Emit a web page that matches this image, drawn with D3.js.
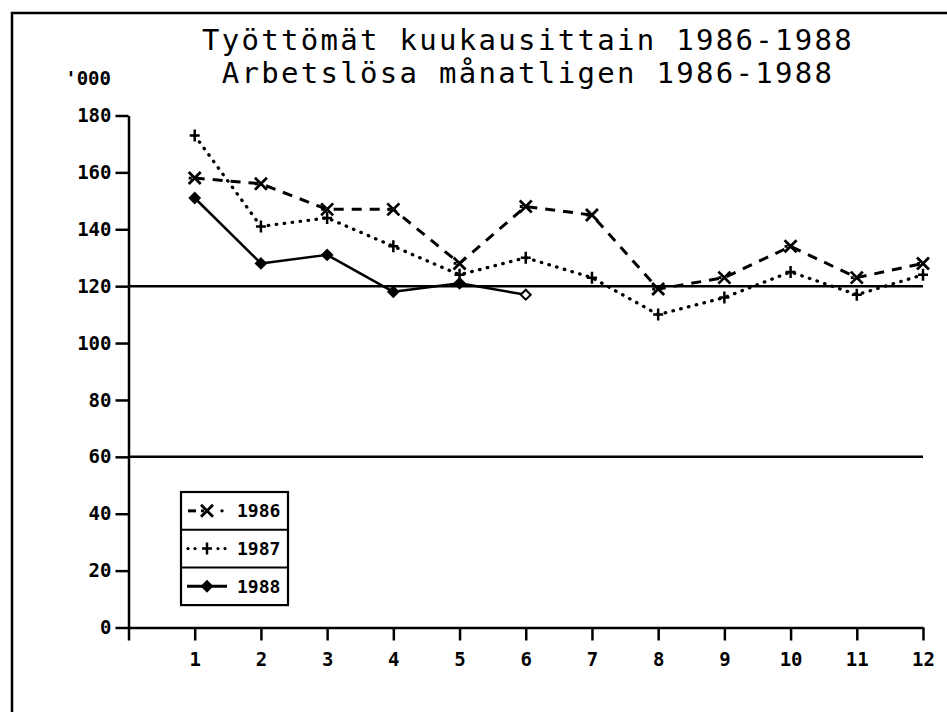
<!DOCTYPE html>
<html lang="fi">
    <head>
        <meta charset="UTF-8">
        <title>Työttömät kuukausittain 1986-1988</title>
        <style>
            html, body { margin: 0; padding: 0; background: #fff; overflow: hidden; }
            svg { display: block; }
        </style>
        <script src="https://cdn.jsdelivr.net/npm/d3@7"></script>
    </head>
    <body>
        <script>
            const titleLines = ["Työttömät kuukausittain 1986-1988", "Arbetslösa månatligen 1986-1988"];
            const unitLabel = "'000";
            const months = [1, 2, 3, 4, 5, 6, 7, 8, 9, 10, 11, 12];
            const yTicks = [0, 20, 40, 60, 80, 100, 120, 140, 160, 180];
            const refLines = [120, 60];
            const years = ["1986", "1987", "1988"];
            const values1986 = [158, 156, 147, 147, 128, 148, 145, 119, 123, 134, 123, 128];
            const values1987 = [173, 141, 144, 134, 124, 130, 123, 110, 116, 125, 117, 124];
            const values1988 = [151, 128, 131, 118, 121, 117];

            const width = 947, height = 712;
            const mono = "'DejaVu Sans Mono', 'Liberation Mono', monospace";

            const svg = d3.select("body")
                .append("svg")
                .attr("width", width)
                .attr("height", height);

            // frame (only top and left edges are visible in the scan)
            svg.append("path")
                .attr("d", "M12,712 V13 H947")
                .attr("fill", "none")
                .attr("stroke", "#000")
                .attr("stroke-width", 2.5);

            const xScale = d3.scaleLinear().domain([0, 12]).range([128.5, 923]);
            const yScale = d3.scaleLinear().domain([0, 180]).range([627.5, 115.5]);

            // title
            svg.append("g")
                .selectAll("text")
                .data(titleLines)
                .enter()
                .append("text")
                .attr("x", 528)
                .attr("y", (d, i) => 50 + i * 33)
                .attr("text-anchor", "middle")
                .attr("font-family", mono)
                .attr("font-size", 29)
                .attr("letter-spacing", 2.3)
                .attr("fill", "#000")
                .text(d => d);

            svg.append("text")
                .attr("x", 111)
                .attr("y", 85)
                .attr("text-anchor", "end")
                .attr("font-family", mono)
                .attr("font-weight", "bold")
                .attr("font-size", 19)
                .text(unitLabel);

            // axes
            const yAxis = d3.axisLeft(yScale)
                .tickValues(yTicks)
                .tickSize(13)
                .tickPadding(4)
                .tickSizeOuter(0);

            const xAxis = d3.axisBottom(xScale)
                .tickValues([0].concat(months))
                .tickSize(13)
                .tickPadding(12)
                .tickSizeOuter(0)
                .tickFormat(d => d === 0 ? "" : d);

            const styleAxis = g => {
                g.select(".domain").attr("stroke-width", 2.5);
                g.selectAll(".tick line").attr("stroke-width", 2.5);
                g.selectAll(".tick text")
                    .attr("font-family", mono)
                    .attr("font-weight", "bold")
                    .attr("font-size", 19)
                    .attr("fill", "#000");
            };

            svg.append("g")
                .attr("transform", `translate(${xScale(0)},0)`)
                .call(yAxis)
                .call(styleAxis);

            svg.append("g")
                .attr("transform", `translate(0,${yScale(0)})`)
                .call(xAxis)
                .call(styleAxis);

            // horizontal reference lines
            svg.append("g")
                .selectAll("line")
                .data(refLines)
                .enter()
                .append("line")
                .attr("x1", xScale(0))
                .attr("x2", xScale(12))
                .attr("y1", d => yScale(d))
                .attr("y2", d => yScale(d))
                .attr("stroke", "#000")
                .attr("stroke-width", 2.5);

            // series
            const series = [
                { name: years[0], values: values1986, dash: "10,8", width: 3, cap: "butt", marker: "x" },
                { name: years[1], values: values1987, dash: "0.5,7.5", width: 3.3, cap: "round", marker: "plus" },
                { name: years[2], values: values1988, dash: null, width: 2.5, cap: "butt", marker: "diamond" }
            ];

            const line = d3.line()
                .x((d, i) => xScale(months[i]))
                .y(d => yScale(d));

            const drawMarker = (g, type, x, y, open) => {
                if (type === "x") {
                    g.append("path")
                        .attr("d", `M${x - 6},${y - 6}L${x + 6},${y + 6}M${x - 6},${y + 6}L${x + 6},${y - 6}M${x - 6},${y}L${x - 3},${y}`)
                        .attr("stroke", "#000")
                        .attr("stroke-width", 2.8)
                        .attr("fill", "none");
                } else if (type === "plus") {
                    g.append("path")
                        .attr("d", `M${x - 5},${y}L${x + 5},${y}M${x},${y - 6}L${x},${y + 6}`)
                        .attr("stroke", "#000")
                        .attr("stroke-width", 2.5)
                        .attr("fill", "none");
                } else {
                    g.append("path")
                        .attr("d", `M${x},${y - 5}L${x + 5},${y}L${x},${y + 5}L${x - 5},${y}Z`)
                        .attr("stroke", "#000")
                        .attr("stroke-width", 2)
                        .attr("fill", open ? "#fff" : "#000");
                }
            };

            series.forEach(s => {
                const g = svg.append("g");
                g.append("path")
                    .datum(s.values)
                    .attr("d", line)
                    .attr("fill", "none")
                    .attr("stroke", "#000")
                    .attr("stroke-width", s.width)
                    .attr("stroke-linecap", s.cap)
                    .attr("stroke-linejoin", "round")
                    .attr("stroke-dasharray", s.dash);
                s.values.forEach((v, i) => {
                    const open = s.marker === "diamond" && i === s.values.length - 1;
                    drawMarker(g, s.marker, xScale(months[i]), yScale(v), open);
                });
            });

            // legend
            const legendX = 181, legendY = 492, legendW = 107, rowH = 37.7;
            const legend = svg.append("g").attr("id", "legend");

            legend.append("rect")
                .attr("x", legendX)
                .attr("y", legendY)
                .attr("width", legendW)
                .attr("height", rowH * series.length)
                .attr("fill", "#fff")
                .attr("stroke", "#000")
                .attr("stroke-width", 2.2);

            series.forEach((s, i) => {
                const cy = legendY + rowH * i + rowH / 2;
                if (i > 0) {
                    legend.append("line")
                        .attr("x1", legendX)
                        .attr("x2", legendX + legendW)
                        .attr("y1", legendY + rowH * i)
                        .attr("y2", legendY + rowH * i)
                        .attr("stroke", "#000")
                        .attr("stroke-width", 2);
                }
                const sx = legendX + 26;
                if (s.marker === "x") {
                    legend.append("line")
                        .attr("x1", sx - 19).attr("x2", sx - 11)
                        .attr("y1", cy).attr("y2", cy)
                        .attr("stroke", "#000").attr("stroke-width", 3);
                    legend.append("circle")
                        .attr("cx", sx + 15).attr("cy", cy).attr("r", 1.7)
                        .attr("fill", "#000");
                } else if (s.marker === "plus") {
                    [-19, -12, 11, 18].forEach(dx => {
                        legend.append("circle")
                            .attr("cx", sx + dx).attr("cy", cy).attr("r", 1.6)
                            .attr("fill", "#000");
                    });
                } else {
                    legend.append("line")
                        .attr("x1", sx - 20).attr("x2", sx + 20)
                        .attr("y1", cy).attr("y2", cy)
                        .attr("stroke", "#000").attr("stroke-width", 3);
                }
                drawMarker(legend, s.marker, sx, cy, false);
                legend.append("text")
                    .attr("x", legendX + 56)
                    .attr("y", cy)
                    .attr("dy", "0.36em")
                    .attr("font-family", mono)
                    .attr("font-weight", "bold")
                    .attr("font-size", 18)
                    .text(s.name);
            });
        </script>
    </body>
</html>
